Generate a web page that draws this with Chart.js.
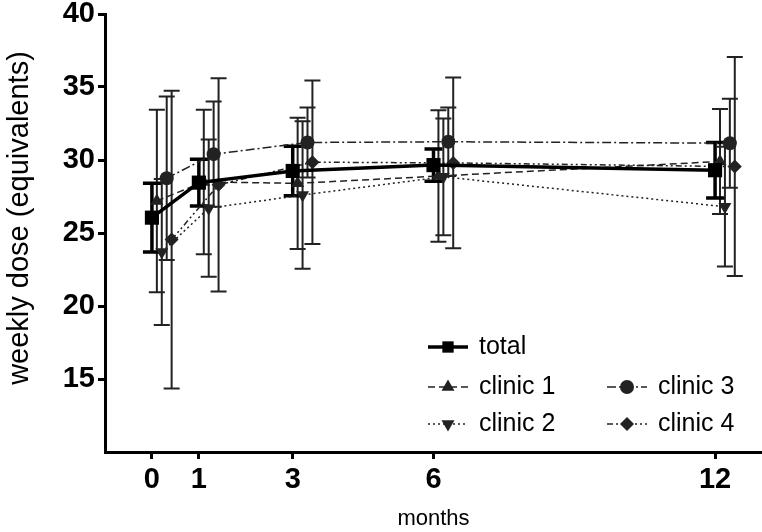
<!DOCTYPE html>
<html>
<head>
<meta charset="utf-8">
<script src="https://cdn.jsdelivr.net/npm/chart.js@4"></script>
<style>
html, body { margin: 0; padding: 0; background: #fff; }
</style>
</head>
<body>
<canvas id="canvas" width="762" height="532"></canvas>
<script>
// months of follow-up and the y ticks that carry a label
const months = [0, 1, 3, 6, 12];
const yTicks = [15, 20, 25, 30, 35, 40];

// mean weekly dose and SD
const totalMean = [26.05, 28.45, 29.25, 29.65, 29.3];
const totalSd = [2.35, 1.6, 1.7, 1.1, 1.9];
const clinic1Mean = [27.2, 28.5, 28.4, 28.9, 29.9];
const clinic1Sd = [6.25, 4.95, 4.5, 4.5, 3.6];
const clinic2Mean = [23.7, 26.7, 27.6, 28.85, 26.8];
const clinic2Sd = [5.0, 4.7, 5.05, 4.0, 4.1];
const clinic3Mean = [28.75, 30.4, 31.2, 31.25, 31.15];
const clinic3Sd = [5.6, 3.6, 2.4, 2.35, 3.05];
const clinic4Mean = [24.55, 28.3, 29.85, 29.8, 29.55];
const clinic4Sd = [10.2, 7.3, 5.6, 5.85, 7.5];

const FONT = "'Liberation Sans', Arial, sans-serif";
const INK = '#222';

// shift = small horizontal jitter so the bars don't sit on top of each other
const series = [
  { label: 'total', mean: totalMean, sd: totalSd, shift: 0, dash: [], width: 3.5, color: '#000',
    point: 'rect', radius: 10, rotation: 0, barWidth: 3.5, cap: 9, legend: [448, 347] },
  { label: 'clinic 1', mean: clinic1Mean, sd: clinic1Sd, shift: 0.105, dash: [7, 4], width: 1.5, color: INK,
    point: 'triangle', radius: 7.5, rotation: 0, barWidth: 2, cap: 8, legend: [448, 387] },
  { label: 'clinic 2', mean: clinic2Mean, sd: clinic2Sd, shift: 0.21, dash: [2, 3], width: 1.5, color: INK,
    point: 'triangle', radius: 7.5, rotation: 180, barWidth: 2, cap: 8, legend: [448, 424] },
  { label: 'clinic 3', mean: clinic3Mean, sd: clinic3Sd, shift: 0.315, dash: [9, 3, 2, 3], width: 1.5, color: INK,
    point: 'circle', radius: 7, rotation: 0, barWidth: 2, cap: 8, legend: [627, 387] },
  { label: 'clinic 4', mean: clinic4Mean, sd: clinic4Sd, shift: 0.42, dash: [6, 3, 2, 3, 2, 3], width: 1.5, color: INK,
    point: 'rectRot', radius: 7, rotation: 0, barWidth: 2, cap: 8, legend: [627, 424] }
];

const errorBars = {
  id: 'errorBars',
  beforeDatasetsDraw(chart) {
    const { ctx, scales: { x, y } } = chart;
    ctx.save();
    series.slice().reverse().forEach(s => {
      ctx.strokeStyle = s.color;
      ctx.lineWidth = s.barWidth;
      ctx.setLineDash([]);
      months.forEach((m, i) => {
        const px = x.getPixelForValue(m + s.shift);
        const top = y.getPixelForValue(s.mean[i] + s.sd[i]);
        const bot = y.getPixelForValue(s.mean[i] - s.sd[i]);
        ctx.beginPath();
        ctx.moveTo(px, top); ctx.lineTo(px, bot);
        ctx.moveTo(px - s.cap, top); ctx.lineTo(px + s.cap, top);
        ctx.moveTo(px - s.cap, bot); ctx.lineTo(px + s.cap, bot);
        ctx.stroke();
      });
    });
    ctx.restore();
  }
};

const legendBox = {
  id: 'legendBox',
  afterDraw(chart) {
    const ctx = chart.ctx;
    ctx.save();
    series.forEach(s => {
      const [lx, ly] = s.legend;
      ctx.strokeStyle = s.color;
      ctx.fillStyle = s.color;
      ctx.lineWidth = s.width;
      ctx.setLineDash(s.dash);
      ctx.beginPath();
      ctx.moveTo(lx - 20, ly); ctx.lineTo(lx + 20, ly);
      ctx.stroke();
      ctx.setLineDash([]);
      const r = s.label === 'total' ? 8 : s.radius;
      Chart.helpers.drawPoint(ctx, { pointStyle: s.point, radius: r, rotation: s.rotation, borderWidth: 0 }, lx, ly);
      ctx.fillStyle = '#000';
      ctx.font = '25px ' + FONT;
      ctx.textBaseline = 'middle';
      ctx.textAlign = 'left';
      ctx.fillText(s.label, lx + 31, ly);
    });

    // y axis title sits a bit above the middle of the axis in the original
    ctx.translate(20, 218);
    ctx.rotate(-Math.PI / 2);
    ctx.font = '29px ' + FONT;
    ctx.textAlign = 'center';
    ctx.textBaseline = 'middle';
    ctx.fillText('weekly dose (equivalents)', 0, 0);
    ctx.restore();
  }
};

new Chart(document.getElementById('canvas'), {
  type: 'line',
  data: {
    datasets: series.map(s => ({
      label: s.label,
      data: months.map((m, i) => ({ x: m + s.shift, y: s.mean[i] })),
      borderColor: s.color,
      borderWidth: s.width,
      borderDash: s.dash,
      backgroundColor: s.color,
      pointStyle: s.point,
      pointRadius: s.radius,
      pointRotation: s.rotation,
      pointBorderWidth: 0,
      pointBackgroundColor: s.color,
      tension: 0,
      fill: false
    }))
  },
  options: {
    responsive: false,
    animation: false,
    devicePixelRatio: 1,
    layout: { autoPadding: false, padding: { top: 14, right: 0, left: 0, bottom: 0 } },
    plugins: { legend: { display: false }, tooltip: { enabled: false } },
    scales: {
      x: {
        type: 'linear',
        min: -1,
        max: 13,
        afterBuildTicks: scale => { scale.ticks = months.map(v => ({ value: v })); },
        afterFit: scale => { scale.height = 80; scale.paddingLeft = 0; scale.paddingRight = 0; },
        ticks: { color: '#000', font: { family: FONT, size: 29, weight: 'bold', lineHeight: 1 }, padding: 6 },
        grid: { drawOnChartArea: false, drawTicks: true, tickLength: 7, tickWidth: 3, tickColor: '#000' },
        border: { color: '#000', width: 3 },
        title: { display: true, text: 'months', color: '#000', font: { family: FONT, size: 22 }, padding: { top: 0, bottom: 0 } }
      },
      y: {
        min: 10,
        max: 40,
        afterBuildTicks: scale => { scale.ticks = yTicks.map(v => ({ value: v })); },
        afterFit: scale => { scale.width = 105; scale.paddingTop = 0; scale.paddingBottom = 0; },
        ticks: { color: '#000', font: { family: FONT, size: 29, weight: 'bold', lineHeight: 1 }, padding: 3 },
        grid: { drawOnChartArea: false, drawTicks: true, tickLength: 7, tickWidth: 3, tickColor: '#000' },
        border: { color: '#000', width: 3 }
      }
    }
  },
  plugins: [errorBars, legendBox]
});
</script>
</body>
</html>
